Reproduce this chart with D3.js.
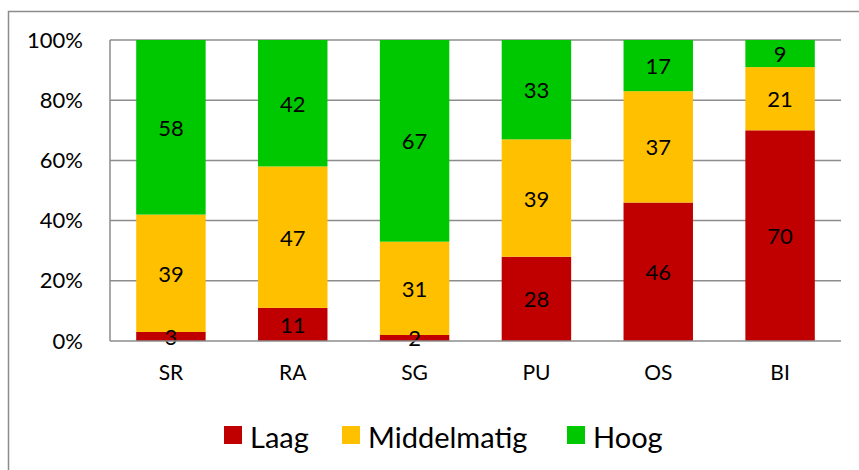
<!DOCTYPE html>
<html><head><meta charset="utf-8">
<script src="https://cdn.jsdelivr.net/npm/d3@7"></script>
<style>body{margin:0;background:#fff}svg{display:block;font-family:Lato,"Open Sans",sans-serif}</style>
</head><body><svg id="c" width="859" height="470"></svg>
<script>
const categories = ["SR","RA","SG","PU","OS","BI"];
const seriesNames = ["Laag","Middelmatig","Hoog"];
const laag = [3,11,2,28,46,70];
const middelmatig = [39,47,31,39,37,21];
const hoog = [58,42,67,33,17,9];
const yTicks = [0,20,40,60,80,100];
const colors = ["#C00000","#FFC000","#00C800"];

const svg = d3.select("#c");
svg.append("rect").attr("x",8.5).attr("y",11.5).attr("width",870).attr("height",480)
  .attr("fill","none").attr("stroke","#8c8c8c").attr("stroke-width",1.5);

const m = {left:110, right:841, top:40, bottom:341};
const x = d3.scaleBand().domain(categories).range([m.left,m.right]).paddingInner(0.43).paddingOuter(0.215);
const y = d3.scaleLinear().domain([0,100]).range([m.bottom,m.top]);

const rows = categories.map((c,i)=>({cat:c, Laag:laag[i], Middelmatig:middelmatig[i], Hoog:hoog[i]}));
const stack = d3.stack().keys(seriesNames)(rows);

// gridlines
svg.append("g").selectAll("line").data(yTicks.filter(t=>t>0)).join("line")
  .attr("x1",m.left).attr("x2",m.right).attr("y1",d=>y(d)).attr("y2",d=>y(d))
  .attr("stroke","#8c8c8c").attr("stroke-width",1.5);

// bars
const g = svg.append("g");
stack.forEach((s,si)=>{
  g.append("g").selectAll("rect").data(s).join("rect")
   .attr("x",d=>x(d.data.cat)).attr("width",x.bandwidth())
   .attr("y",d=>y(d[1])).attr("height",d=>y(d[0])-y(d[1]))
   .attr("fill",colors[si]);
});

// axes lines
svg.append("line").attr("x1",m.left).attr("x2",m.left).attr("y1",m.top).attr("y2",m.bottom).attr("stroke","#8c8c8c").attr("stroke-width",1.5);
svg.append("line").attr("x1",m.left).attr("x2",m.right).attr("y1",m.bottom).attr("y2",m.bottom).attr("stroke","#8c8c8c").attr("stroke-width",1.5);

// labels
stack.forEach((s,si)=>{
  g.append("g").selectAll("text").data(s).join("text")
   .attr("x",d=>x(d.data.cat)+x.bandwidth()/2)
   .attr("y",d=>(y(d[0])+y(d[1]))/2)
   .attr("text-anchor","middle").attr("dominant-baseline","central")
   .attr("font-size",22).attr("fill","#000")
   .text(d=>d[1]-d[0]);
});

// y tick labels
const yAxis = d3.axisLeft(y).tickValues(yTicks).tickFormat(d=>d+"%").tickSize(0).tickPadding(27);
const ya = svg.append("g").attr("transform",`translate(${m.left},0)`).call(yAxis);
ya.select(".domain").remove();
ya.selectAll("text").attr("font-size",22).attr("font-family","Lato").attr("fill","#000");

// x labels
const xAxis = d3.axisBottom(x).tickSize(0).tickPadding(24);
const xa = svg.append("g").attr("transform",`translate(0,${m.bottom})`).call(xAxis);
xa.select(".domain").remove();
xa.selectAll("text").attr("font-size",21).attr("font-family","Lato").attr("fill","#000");

// legend
const legX = [224,342,567];
const leg = svg.append("g");
seriesNames.forEach((n,i)=>{
  leg.append("rect").attr("x",legX[i]).attr("y",426).attr("width",18).attr("height",18).attr("fill",colors[i]);
  leg.append("text").attr("x",legX[i]+26).attr("y",436).attr("dominant-baseline","central")
    .attr("font-size",29).attr("fill","#000").text(n);
});
</script></body></html>
